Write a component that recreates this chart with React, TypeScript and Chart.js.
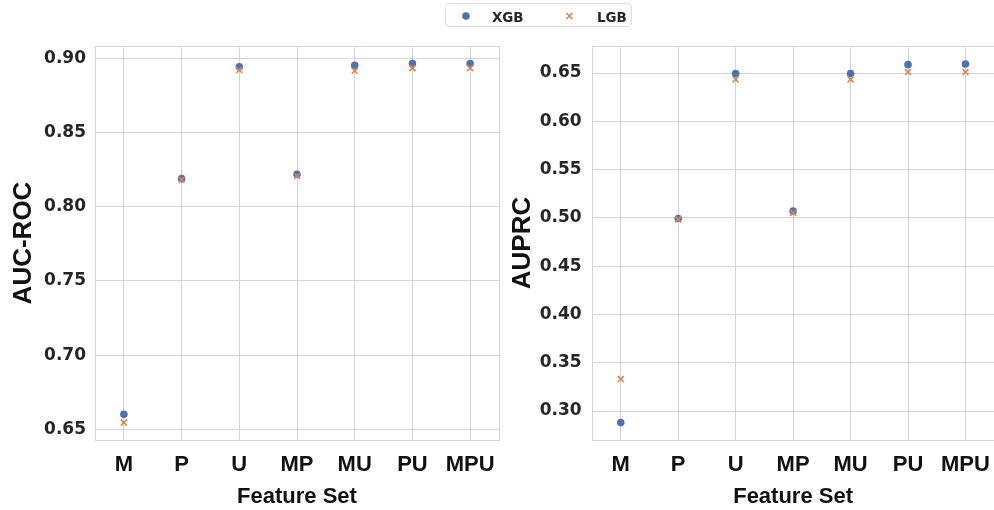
import React, { useEffect, useRef } from "react";
import { Chart, registerables } from "chart.js";

Chart.register(...registerables);

const categories = ["M", "P", "U", "MP", "MU", "PU", "MPU"];
const aucXgb = [0.6601, 0.8189, 0.8943, 0.8218, 0.8953, 0.8964, 0.8964];
const aucLgb = [0.6545, 0.8182, 0.8921, 0.8207, 0.8916, 0.8934, 0.8934];
const auprcXgb = [0.288, 0.4994, 0.6494, 0.5072, 0.6494, 0.6587, 0.6593];
const auprcLgb = [0.3331, 0.4985, 0.6434, 0.5052, 0.6434, 0.651, 0.651];
const aucTicks = [0.65, 0.7, 0.75, 0.8, 0.85, 0.9];
const auprcTicks = [0.3, 0.35, 0.4, 0.45, 0.5, 0.55, 0.6, 0.65];

const XGB_COLOR = "#4c72b0";
const LGB_COLOR = "#dd8452";
const GRID = "#d5d5d5";

const framePlugin = {
  id: "frame",
  beforeDatasetsDraw(chart: any) {
    const { ctx, chartArea } = chart;
    ctx.save();
    ctx.strokeStyle = GRID;
    ctx.lineWidth = 1;
    ctx.strokeRect(
      Math.round(chartArea.left) + 0.5,
      Math.round(chartArea.top) + 0.5,
      Math.round(chartArea.right - chartArea.left),
      Math.round(chartArea.bottom - chartArea.top)
    );
    ctx.restore();
  },
};

function makeConfig(
  xgb: number[],
  lgb: number[],
  ticks: number[],
  yMin: number,
  yMax: number,
  yTitle: string,
  yWidth: number,
  titlePad: number,
  tickPad: number,
  padRight: number
): any {
  return {
    type: "line",
    data: {
      labels: categories,
      datasets: [
        {
          label: "XGB",
          data: xgb,
          showLine: false,
          pointStyle: "circle",
          pointRadius: 3.8,
          pointBackgroundColor: XGB_COLOR,
          pointBorderColor: XGB_COLOR,
          pointBorderWidth: 0,
          order: 2,
        },
        {
          label: "LGB",
          data: lgb,
          showLine: false,
          pointStyle: "crossRot",
          pointRadius: 4.2,
          pointBorderColor: LGB_COLOR,
          pointBackgroundColor: LGB_COLOR,
          pointBorderWidth: 1.6,
          order: 1,
        },
      ],
    },
    options: {
      responsive: false,
      animation: false,
      devicePixelRatio: 1,
      layout: { padding: { top: 46, right: padRight, left: 0, bottom: 0 } },
      plugins: { legend: { display: false }, tooltip: { enabled: false } },
      scales: {
        x: {
          type: "category",
          offset: true,
          grid: { color: GRID, offset: false, drawTicks: false, lineWidth: 1 },
          border: { display: false },
          ticks: {
            color: "#111",
            padding: 12,
            font: { family: "'Liberation Sans', Arial, sans-serif", weight: "bold", size: 22 },
          },
          title: {
            display: true,
            text: "Feature Set",
            color: "#111",
            padding: { top: 0, bottom: 0 },
            font: { family: "'Liberation Sans', Arial, sans-serif", weight: "bold", size: 22 },
          },
          afterFit: (s: any) => {
            s.height = 70;
            s.paddingLeft = 0;
            s.paddingRight = 0;
          },
        },
        y: {
          type: "linear",
          min: yMin,
          max: yMax,
          grid: { color: GRID, drawTicks: false, lineWidth: 1 },
          border: { display: false },
          afterBuildTicks: (s: any) => {
            s.ticks = ticks.map((v) => ({ value: v }));
          },
          ticks: {
            color: "#262626",
            padding: tickPad,
            font: { family: "'DejaVu Sans', sans-serif", weight: "bold", size: 17 },
            callback: (v: any) => Number(v).toFixed(2),
          },
          title: {
            display: true,
            text: yTitle,
            color: "#111",
            padding: { top: titlePad, bottom: 0 },
            font: { family: "'Liberation Sans', Arial, sans-serif", weight: "bold", size: 26 },
          },
          afterFit: (s: any) => {
            s.width = yWidth;
            s.paddingTop = 0;
            s.paddingBottom = 0;
          },
        },
      },
    },
    plugins: [framePlugin],
  };
}

function ChartCanvas(props: { config: () => any; left: number; width: number }) {
  const ref = useRef<HTMLCanvasElement | null>(null);
  useEffect(() => {
    if (!ref.current) return;
    const chart = new Chart(ref.current, props.config());
    return () => chart.destroy();
  }, []);
  return (
    <canvas
      ref={ref}
      width={props.width}
      height={510}
      style={{ position: "absolute", left: props.left, top: 0, width: props.width, height: 510 }}
    />
  );
}

function Legend() {
  const textStyle: React.CSSProperties = {
    position: "absolute",
    top: 5,
    fontFamily: "'DejaVu Sans', sans-serif",
    fontWeight: "bold",
    fontSize: 13.4,
    color: "#262626",
    lineHeight: "18px",
  };
  return (
    <div
      style={{
        position: "absolute",
        left: 445,
        top: 3,
        width: 187,
        height: 24,
        border: "1px solid #dcdcdc",
        borderRadius: 4,
        boxSizing: "border-box",
        background: "#fff",
      }}
    >
      <svg style={{ position: "absolute", left: 0, top: 0 }} width={187} height={24}>
        <circle cx={20} cy={12} r={3.8} fill={XGB_COLOR} />
        <g stroke={LGB_COLOR} strokeWidth={1.6}>
          <line x1={120.3} y1={9} x2={126.3} y2={15} />
          <line x1={126.3} y1={9} x2={120.3} y2={15} />
        </g>
      </svg>
      <span style={{ ...textStyle, left: 46 }}>XGB</span>
      <span style={{ ...textStyle, left: 151 }}>LGB</span>
    </div>
  );
}

export default function App() {
  return (
    <div
      style={{
        position: "absolute",
        left: 0,
        top: 0,
        width: 994,
        height: 510,
        overflow: "hidden",
        background: "#fff",
      }}
    >
      <ChartCanvas
        left={0}
        width={510}
        config={() =>
          makeConfig(aucXgb, aucLgb, aucTicks, 0.6428, 0.9083, "AUC-ROC", 95, 8.4, 9, 11)
        }
      />
      <ChartCanvas
        left={500}
        width={500}
        config={() =>
          makeConfig(auprcXgb, auprcLgb, auprcTicks, 0.27, 0.678, "AUPRC", 92, 7, 10.3, 4)
        }
      />
      <Legend />
    </div>
  );
}
